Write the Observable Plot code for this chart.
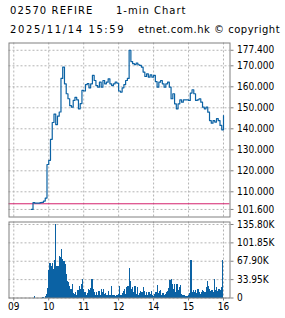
<!DOCTYPE html>
<html><head><meta charset="utf-8">
<script src="https://cdn.jsdelivr.net/npm/d3@7"></script>
<script src="https://cdn.jsdelivr.net/npm/@observablehq/plot@0.6"></script>
<style>
html,body{margin:0;padding:0;background:#fff;}
#wrap{position:relative;width:285px;height:318px;overflow:hidden;font-family:"DejaVu Sans",sans-serif;color:#000;}
.t{position:absolute;font-size:10px;line-height:12px;white-space:pre;}
#p1,#p2{position:absolute;left:0;}
#p1{top:0px}#p2{top:219px}
</style></head><body>
<div id="wrap">
<div class="t" style="left:10px;top:5px;letter-spacing:1.1px">02570 REFIRE</div>
<div class="t" style="left:116px;top:5px;letter-spacing:1px">1-min Chart</div>
<div class="t" style="left:10px;top:23.5px;letter-spacing:1.6px">2025/11/14 15:59</div>
<div class="t" style="left:138px;top:23.5px;letter-spacing:0.5px">etnet.com.hk © copyright</div>
<div id="p1"></div>
<div id="p2"></div>
</div>
<script>
// Price, 3-minute steps from 09:30 (morning) and 13:00 (afternoon)
const priceAM = [101.6,104.8,104.6,104.6,104.6,104.8,105.0,105.6,107.0,123.0,
 125.0,135.0,143.0,147.0,142.0,146.0,148.0,164.0,169.4,161.4,
 156.7,154.3,151.0,150.3,153.5,155.0,153.8,149.5,152.0,158.3,
 158.0,161.0,161.5,159.5,161.4,165.4,163.0,160.6,159.8,162.2,
 159.8,163.0,161.4,162.2,163.8,161.4,160.6,161.4,162.2,161.7];
const pricePM = [158.0,157.5,159.5,161.0,163.0,164.0,177.4,172.0,171.0,170.6,
 171.3,170.5,170.2,169.4,167.0,164.9,166.2,164.6,165.7,164.6,
 165.4,162.5,159.8,162.2,163.0,161.4,159.8,161.4,162.2,159.8,
 154.3,156.7,151.9,149.5,151.9,153.8,152.7,153.8,153.8,153.8,
 153.5,157.0,158.6,156.7,153.5,153.8,154.3,152.7,150.3,149.5,
 150.3,147.9,143.9,142.7,143.9,143.2,144.8,143.9,141.6,139.5,
 146.3];
const refPrice = 104.3;
// Volume (thousands), 2-minute bins from 09:30 and 13:00
const volAM = [0,0,0,2,0,0,0,0,0,0,1.5,0,2,6,18,
 50,64,58,64,52,70,135.8,58,58,77,74,89,71,68,61,
 43,31,28,22,16,25,8,7,10,5,14,22,16,25,35,
 16,10,4,8,16,13,18,35,16,10,5,10,5,12,5,
 16,10,16,7,8,5,12,4,5,21,4,5,2,5,4];
const volPM = [7,22,5,8,12,16,7,19,22,55,
 31,16,19,10,22,7,19,5,8,12,
 10,20,12,5,10,5,10,7,12,4,
 2,7,10,23,8,12,13,5,8,5,
 7,10,12,18,32,34,25,16,25,10,
 25,13,19,24,7,5,4,2,2,2,
 4,8,70,10,13,10,14,8,16,10,
 7,10,14,12,10,19,30,22,16,12,
 14,10,35,13,19,12,16,14,19,70];
const priceTicks = [101.6,110,120,130,140,150,160,170,177.4];
const volTicks = [0,33.95,67.9,101.85,135.8];
const hourTicks = [9,10,11,12,13,14,15];
const hourLabels = ["09","10","11","12","14","15","16"];

// trading-time axis: lunch break removed (13:00 maps onto 12)
const priceData = [
  ...priceAM.map((p,i)=>({c: 9.5 + i*3/60, p})),
  ...pricePM.map((p,i)=>({c: 12 + i*3/60, p}))
];
const volData = [
  ...volAM.map((v,i)=>({c0: 9.5 + i*2/60, c1: 9.5 + (i+1)*2/60, v})),
  ...volPM.map((v,i)=>({c0: 12 + i*2/60, c1: 12 + (i+1)*2/60, v}))
];

const blue = "#0b62a4", gridC = "#b4b4b4", frameC = "#808080";
const font = {fontFamily:"'DejaVu Sans Condensed','DejaVu Sans',sans-serif", fontStretch:"condensed", fontSize:"10px", background:"transparent", overflow:"visible"};
const xdom = [8.863, 15.186];

const p1 = Plot.plot({
  width:285, height:219,
  marginLeft:8.5, marginRight:55.5, marginTop:42.5, marginBottom:2.5,
  style: font,
  x:{domain:xdom, axis:null, label:null},
  y:{domain:[98.0,180.86], axis:null, label:null},
  marks:[
    Plot.gridX(hourTicks,{stroke:gridC, strokeOpacity:1, strokeDasharray:"2,2"}),
    Plot.gridY(priceTicks,{stroke:gridC, strokeOpacity:1, strokeDasharray:"2,2"}),
    Plot.ruleY([refPrice],{stroke:"#d4206c", strokeWidth:1}),
    Plot.line(priceData,{x:"c", y:"p", curve:"step-after", stroke:blue, strokeWidth:1.2}),
    Plot.frame({stroke:frameC, strokeWidth:1}),
    Plot.axisY(priceTicks,{anchor:"right", tickSize:3, tickPadding:4, stroke:frameC, fill:"#000", tickFormat:d=>d.toFixed(3), label:null})
  ]
});
document.getElementById("p1").appendChild(p1);

const p2 = Plot.plot({
  width:285, height:99,
  marginLeft:8.5, marginRight:55.5, marginTop:2.5, marginBottom:20.5,
  style: font,
  x:{domain:xdom, label:null},
  y:{domain:[0,140.4], label:null},
  marks:[
    Plot.gridX(hourTicks,{stroke:gridC, strokeOpacity:1, strokeDasharray:"2,2"}),
    Plot.gridY(volTicks,{stroke:gridC, strokeOpacity:1, strokeDasharray:"2,2"}),
    Plot.rectY(volData,{x1:"c0", x2:"c1", y:"v", fill:blue, shapeRendering:"crispEdges"}),
    Plot.frame({stroke:frameC, strokeWidth:1}),
    Plot.axisY(volTicks,{anchor:"right", tickSize:3, tickPadding:4, stroke:frameC, fill:"#000", tickFormat:d=>d===0?"0":d.toFixed(2)+"K", label:null}),
    Plot.axisX(hourTicks,{anchor:"bottom", tickSize:3, tickPadding:1.5, stroke:frameC, fill:"#000", tickFormat:(d,i)=>hourLabels[i], label:null})
  ]
});
document.getElementById("p2").appendChild(p2);
</script>
</body></html>
